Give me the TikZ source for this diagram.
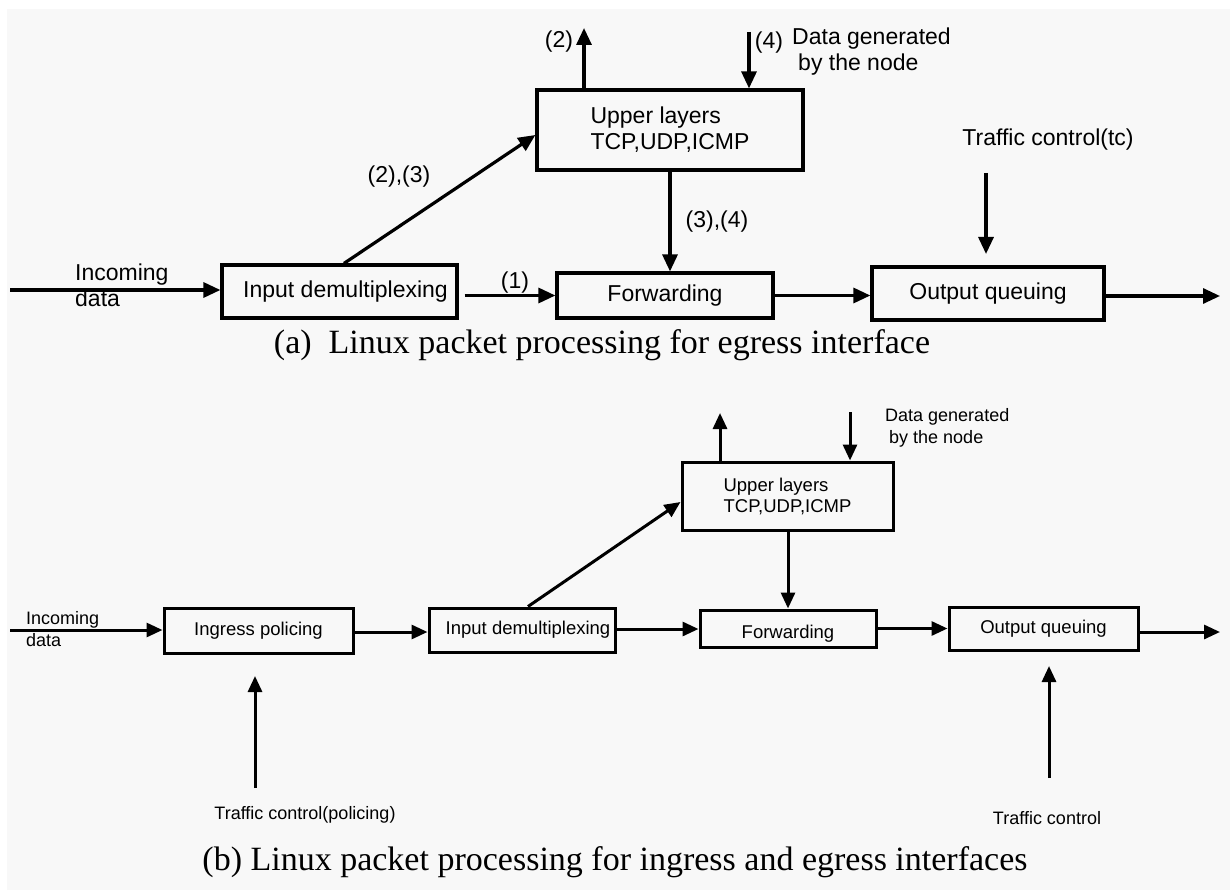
\documentclass[tikz,border=0pt]{standalone}
\usepackage{fontspec}
\setmainfont{Liberation Serif}
\setsansfont{Liberation Sans}
\usetikzlibrary{arrows.meta}
\definecolor{bgc}{RGB}{248,248,248}
\tikzset{
  blk/.style={draw=black, line width=3.2pt, inner sep=0pt, font=\sffamily\fontsize{23}{26}\selectfont},
  blkb/.style={draw=black, line width=3pt, inner sep=0pt, font=\sffamily\fontsize{18.5}{21}\selectfont},
  arr/.style={-{Triangle[length=17pt,width=15pt]}, line width=3.2pt},
  arrb/.style={-{Triangle[length=16pt,width=14pt]}, line width=3pt},
  lbl/.style={inner sep=0pt, font=\sffamily\fontsize{23}{26}\selectfont},
  lblb/.style={inner sep=0pt, font=\sffamily\fontsize{18}{22}\selectfont},
  captext/.style={inner sep=0pt, font=\rmfamily\fontsize{34}{37}\selectfont}
}
\begin{document}
\begin{tikzpicture}[x=1pt,y=-1pt]
\fill[white] (0,0) rectangle (1230,890);
\fill[bgc] (7,9) rectangle (1230,890);
\useasboundingbox (0,0) rectangle (1230,890);

% ---------- (a) ----------
\node[blk, minimum width=235pt, minimum height=53pt] (demA) at (339.5,291.5) {\hspace{12pt}Input demultiplexing};
\node[blk, minimum width=216pt, minimum height=45pt] (fwdA) at (665,295.5) {Forwarding};
\node[blk, minimum width=266pt, minimum height=80pt, align=left] (upA) at (670,130) {Upper layers\\TCP,UDP,ICMP};
\node[blk, minimum width=232pt, minimum height=53pt] (outA) at (988,293.5) {Output queuing};

\coordinate (inA) at (10,290);
\coordinate (endA) at (1220,296);
\coordinate (a2) at (584,28);
\coordinate (a4) at (749,32);
\coordinate (dA) at (344,0);
\coordinate (tcAt) at (986,173);
\coordinate (tcAb) at (986,254);

\draw[arr] (inA) -- (demA.west |- inA);
\draw[arr] ([xshift=6pt]demA.east |- fwdA.west) -- (fwdA.west);
\draw[arr] (demA.north -| dA) -- (upA.west |- 0,135);
\draw[arr] (upA.north -| a2) -- (a2);
\draw[arr] (a4) -- (a4 |- upA.north);
\draw[arr] (upA.south) -- (upA.south |- fwdA.north);
\draw[arr] (fwdA.east) -- (outA.west |- fwdA.east);
\draw[arr] (outA.east |- endA) -- (endA);
\draw[arr] (tcAt) -- (tcAb);

\node[lbl, align=left, anchor=west] (tIncA) at (75,285) {Incoming\\data};
\node[lbl] (t1) at (515,283) {(1)};
\node[lbl] (t23) at (399,177) {(2),(3)};
\node[lbl] (t2) at (559,42) {(2)};
\node[lbl] (t4) at (769,43) {(4)};
\node[lbl, align=left, anchor=north west] (tDataA) at (792,28) {Data generated\\\hspace{6pt}by the node};
\node[lbl] (t34) at (717,222) {(3),(4)};
\node[lbl] (tTcA) at (1048,140) {Traffic control(tc)};

\node[captext] (capA) at (602,345) {(a)\ \ Linux packet processing for egress interface};

% ---------- (b) ----------
\node[blkb, minimum width=189pt, minimum height=45pt] (ingB) at (258.5,630.5) {Ingress policing};
\node[blkb, minimum width=186pt, minimum height=44pt] (demB) at (522,630) {\hspace{12pt}Input demultiplexing};
\node[blkb, minimum width=211pt, minimum height=68pt, align=left] (upB) at (787.5,496) {Upper layers\\TCP,UDP,ICMP};
\node[blkb, minimum width=176pt, minimum height=37pt, text height=23pt, text depth=4pt] (fwdB) at (788,628.5) {Forwarding};
\node[blkb, minimum width=189pt, minimum height=43pt] (outB) at (1043.5,628.5) {Output queuing};

\coordinate (inB) at (10,630);
\coordinate (endB) at (1220,632);
\coordinate (dB) at (528,0);
\coordinate (upArrB) at (720,413);
\coordinate (downArrB) at (850,412);
\coordinate (polB) at (255,788);
\coordinate (tcB) at (1049,778);

\draw[arrb] (inB) -- (ingB.west |- inB);
\draw[arrb] (ingB.east |- 0,632) -- (demB.west |- 0,632);
\draw[arrb] (demB.east |- 0,629) -- (fwdB.west |- 0,629);
\draw[arrb] (fwdB.east) -- (outB.west |- fwdB.east);
\draw[arrb] (outB.east |- endB) -- (endB);
\draw[arrb] (demB.north -| dB) -- (upB.west |- 0,502);
\draw[arrb] (upB.north -| upArrB) -- (upArrB);
\draw[arrb] (downArrB) -- (downArrB |- upB.north);
\draw[arrb] (upB.south -| fwdB.north) -- (fwdB.north);
\draw[arrb] (polB) -- (polB |- 0,676);
\draw[arrb] (tcB) -- (tcB |- 0,666);

\node[lblb, align=left, anchor=west] (tIncB) at (26,629) {Incoming\\data};
\node[lblb, align=left, anchor=north west] (tDataB) at (885,408) {Data generated\\\hspace{4pt}by the node};
\node[lblb] (tPolB) at (305,815) {Traffic control(policing)};
\node[lblb] (tTcB) at (1047,818) {Traffic control};

\node[captext] (capB) at (615,862) {(b)\ Linux packet processing for ingress and egress interfaces};
\end{tikzpicture}
\end{document}
